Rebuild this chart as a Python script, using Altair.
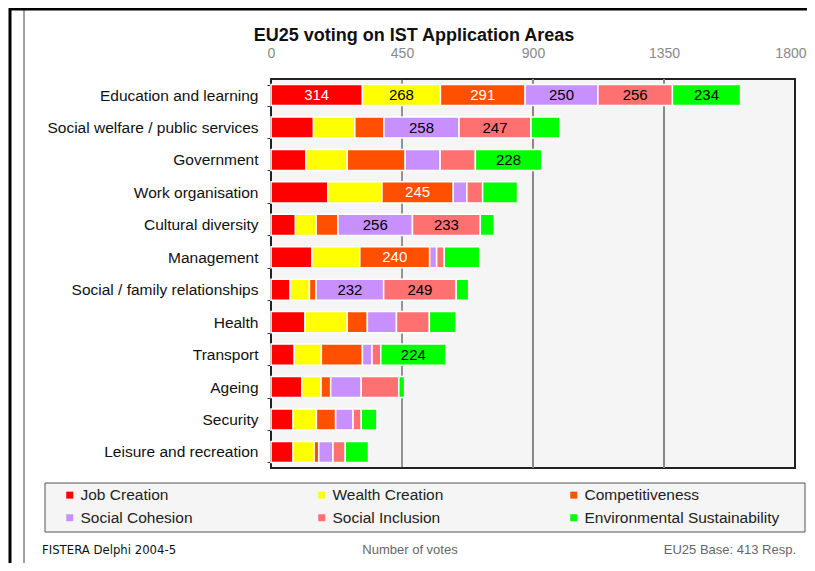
import altair as alt
import pandas as pd

categories = [
    "Education and learning",
    "Social welfare / public services",
    "Government",
    "Work organisation",
    "Cultural diversity",
    "Management",
    "Social / family relationships",
    "Health",
    "Transport",
    "Ageing",
    "Security",
    "Leisure and recreation",
]
criteria = [
    "Job Creation",
    "Wealth Creation",
    "Competitiveness",
    "Social Cohesion",
    "Social Inclusion",
    "Environmental Sustainability",
]
colors = ["#ff0000", "#ffff00", "#ff5000", "#c890ff", "#ff7070", "#00ff00"]

job_creation = [314, 146, 120, 195, 84, 141, 66, 117, 80, 106, 76, 76]
wealth_creation = [268, 142, 142, 186, 71, 164, 66, 145, 93, 66, 80, 72]
competitiveness = [291, 100, 199, 245, 75, 240, 23, 69, 141, 33, 66, 16]
social_cohesion = [250, 258, 120, 47, 256, 24, 232, 100, 33, 105, 60, 49]
social_inclusion = [256, 247, 121, 54, 233, 26, 249, 113, 30, 129, 28, 42]
environmental = [234, 100, 228, 120, 48, 122, 43, 92, 224, 20, 54, 80]

x_ticks = [0, 450, 900, 1350, 1800]
grid_values = [450, 900, 1350]

series = [job_creation, wealth_creation, competitiveness,
          social_cohesion, social_inclusion, environmental]
rows = []
for i, cat in enumerate(categories):
    for j, (crit, vals) in enumerate(zip(criteria, series)):
        rows.append({"area": cat, "criterion": crit, "order": j, "votes": vals[i]})
df = pd.DataFrame(rows)

FONT = "Liberation Sans, Arial, sans-serif"
NARROW = "Liberation Sans Narrow, Arial Narrow, DejaVu Sans Condensed, sans-serif"
x_scale = alt.Scale(domain=[0, 1800], nice=False)
y_scale = alt.Scale(paddingInner=0.35, paddingOuter=0.17)
x_axis = alt.Axis(orient="top", values=x_ticks, grid=False, ticks=False,
                  tickSize=0, domain=False, labelColor="#888", labelFlush=False,
                  labelAlign=alt.condition("datum.value == 1800",
                                           alt.value("right"), alt.value("center")),
                  labelOffset=alt.condition("datum.value == 1800",
                                            alt.value(11), alt.value(0)),
                  labelFontSize=14, labelPadding=19, title=None, format="d")
y_axis = alt.Axis(title=None, labelFontSize=15.5, labelColor="#111",
                  tickBand="extent", tickSize=4, tickColor="#333",
                  domain=False, labelPadding=9, labelLimit=300)
empty = alt.Data(values=[{}])

bars = alt.Chart(df).mark_bar(stroke="white", strokeWidth=1.5).encode(
    x=alt.X("votes:Q", stack="zero", scale=x_scale, axis=x_axis),
    y=alt.Y("area:N", sort=categories, scale=y_scale, axis=y_axis),
    color=alt.Color("criterion:N", sort=criteria,
                    scale=alt.Scale(domain=criteria, range=colors),
                    legend=alt.Legend(title=None, orient="none", legendX=-209,
                                      legendY=408, columns=3, direction="horizontal",
                                      gridAlign="all", columnPadding=38,
                                      rowPadding=6, symbolType="square",
                                      symbolSize=49, symbolStrokeWidth=0,
                                      labelFontSize=15.5, labelOffset=3,
                                      labelLimit=400, labelColor="#222",
                                      padding=0)),
    order=alt.Order("order:Q"),
)

labels = alt.Chart(df).transform_stack(
    stack="votes", as_=["x0", "x1"], groupby=["area"],
    sort=[alt.SortField("order")]
).transform_calculate(
    mid="(datum.x0 + datum.x1) / 2"
).transform_filter(
    "datum.votes >= 220"
).mark_text(fontSize=15, baseline="middle").encode(
    x=alt.X("mid:Q", scale=x_scale, axis=x_axis),
    y=alt.Y("area:N", sort=categories, scale=y_scale, axis=y_axis),
    text=alt.Text("votes:Q", format="d"),
    color=alt.condition("datum.order == 0 || datum.order == 2",
                        alt.value("white"), alt.value("black")),
)

grid = alt.Chart(pd.DataFrame({"v": grid_values})).mark_rule().encode(
    x=alt.X("v:Q", scale=x_scale, axis=x_axis),
    color=alt.condition("datum.v == 450", alt.value("#333"), alt.value("#888")),
    strokeWidth=alt.condition("datum.v == 450", alt.value(1), alt.value(2)),
)

legend_box = alt.Chart(empty).mark_rect(fill="#f5f5f5", stroke="#555",
                                        strokeWidth=1).encode(
    x=alt.value(-226), x2=alt.value(534), y=alt.value(404), y2=alt.value(453)
)
frame_left = alt.Chart(empty).mark_rule(color="black", strokeWidth=3).encode(
    x=alt.value(-261), y=alt.value(-71), y2=alt.value(484)
)
frame_thin = alt.Chart(empty).mark_rule(color="#444", strokeWidth=1).encode(
    x=alt.value(-247), y=alt.value(-70), y2=alt.value(484)
)
frame_top = alt.Chart(empty).mark_rule(color="black", strokeWidth=3).encode(
    x=alt.value(-262), x2=alt.value(536), y=alt.value(-70)
)

title = alt.Chart(empty).mark_text(fontSize=18, fontWeight="bold", color="#111",
                                   align="center", baseline="alphabetic").encode(
    x=alt.value(143), y=alt.value(-38),
    text=alt.value("EU25 voting on IST Application Areas"),
)
foot_left = alt.Chart(empty).mark_text(fontSize=13, color="#111", align="left",
                                       baseline="middle", font=NARROW).encode(
    x=alt.value(-229), y=alt.value(471), text=alt.value("FISTERA Delphi 2004-5"))
foot_mid = alt.Chart(empty).mark_text(fontSize=13, color="#666", align="center",
                                      baseline="middle").encode(
    x=alt.value(139), y=alt.value(471), text=alt.value("Number of votes"))
foot_right = alt.Chart(empty).mark_text(fontSize=13, color="#666", align="right",
                                        baseline="middle").encode(
    x=alt.value(525), y=alt.value(471), text=alt.value("EU25 Base: 413 Resp."))

chart = alt.layer(
    legend_box, frame_left, frame_thin, frame_top, grid, bars, labels,
    title, foot_left, foot_mid, foot_right
).properties(
    width=524, height=389,
    autosize=alt.AutoSizeParams(type="none"),
    padding={"left": 263, "top": 71, "right": 12, "bottom": 95},
).configure(
    font=FONT
).configure_view(
    fill="#f5f5f5", stroke="#222", strokeWidth=2
)

chart.save("out.html", embed_options={"renderer": "svg", "actions": False})
